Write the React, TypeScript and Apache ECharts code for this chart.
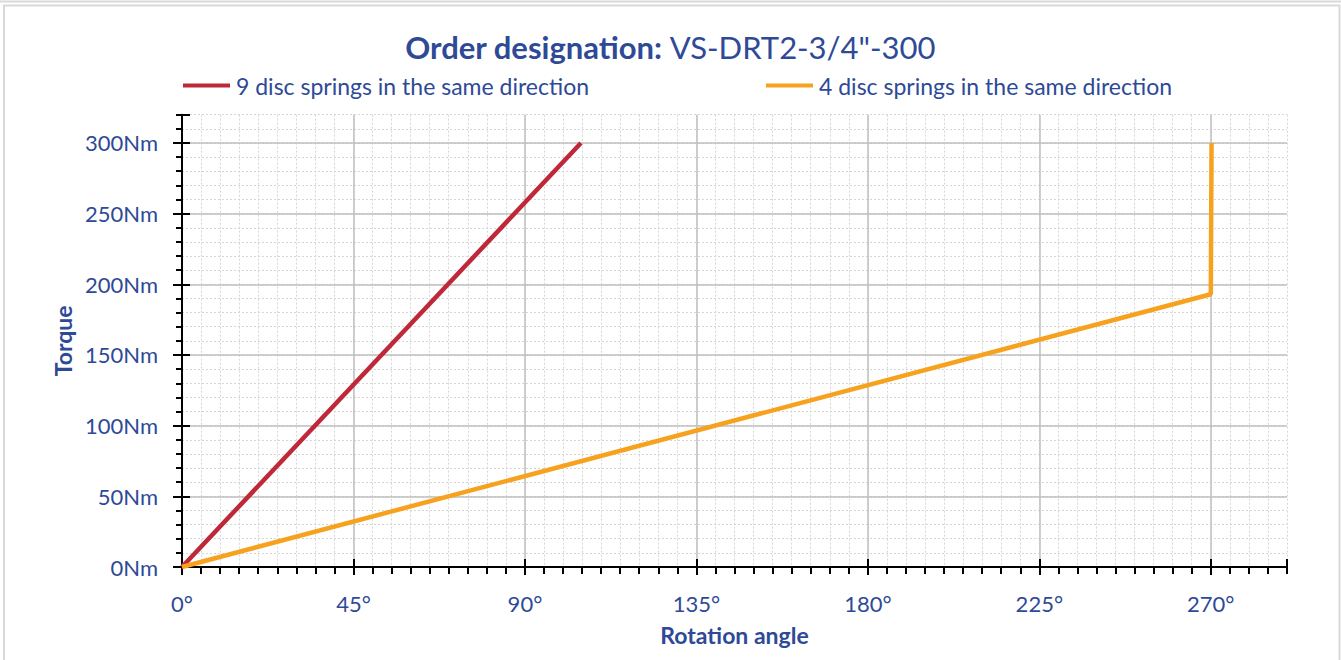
import React, { useEffect, useRef } from "react";
import * as echarts from "echarts";

const seriesNames = ["9 disc springs in the same direction", "4 disc springs in the same direction"];
const nineSprings: number[][] = [[0, 0], [104.7, 300]];
const fourSprings: number[][] = [[0, 0], [270, 193], [270.2, 300]];
const xMax = 290;
const yMax = 320;
const xMajor = 45;
const xMinor = 5;
const yMajor = 50;
const yMinor = 10;
const titleBold = "Order designation:";
const titleRest = " VS-DRT2-3/4\"-300";
const xName = "Rotation angle";
const yName = "Torque";

const TEXT = "#2E4A97";
const RED = "#BE2838";
const ORANGE = "#F7A21E";
const FONT = "Lato";

export default function App() {
  const ref = useRef<HTMLDivElement>(null);
  useEffect(() => {
    document.body.style.margin = "0";
    const chart = echarts.init(ref.current!, null, { renderer: "svg" });
    const grid = { left: 182, right: 54, top: 114.7, bottom: 93 };
    const hidden = { show: false };
    const legendBase = {
      icon: "rect",
      itemWidth: 47,
      itemHeight: 4,
      itemGap: 6,
      padding: 0,
      textStyle: { fontFamily: FONT, fontSize: 23, color: TEXT, padding: [0, 0, 0, 1] },
    };
    chart.setOption({
      animation: false,
      textStyle: { fontFamily: FONT },
      title: {
        text: `{b|${titleBold}}{r|${titleRest}}`,
        left: "center",
        top: 26,
        textStyle: {
          rich: {
            b: { fontFamily: FONT, fontWeight: "bold", fontSize: 31, color: TEXT },
            r: { fontFamily: FONT, fontWeight: "normal", fontSize: 31, color: TEXT },
          },
        },
      },
      legend: [
        { ...legendBase, data: [seriesNames[0]], left: 183, top: 74 },
        { ...legendBase, data: [seriesNames[1]], left: 766, top: 74 },
      ],
      graphic: [
        { type: "line", shape: { x1: 0, y1: 1.5, x2: 1341, y2: 1.5 }, style: { stroke: "#D9D9D9", lineWidth: 2 }, silent: true },
        { type: "rect", shape: { x: 4, y: 5.5, width: 1335.5, height: 670 }, style: { fill: "none", stroke: "#D9D9D9", lineWidth: 2 }, silent: true },
      ],
      grid,
      xAxis: [
        {
          type: "value",
          min: 0,
          max: xMax,
          interval: xMajor,
          position: "bottom",
          name: xName,
          nameLocation: "middle",
          nameGap: 56,
          nameTextStyle: { fontFamily: FONT, fontWeight: "bold", fontSize: 23, color: TEXT },
          axisLine: { show: true, onZero: false, lineStyle: { color: "#000", width: 2 } },
          axisTick: { show: true, length: 8, lineStyle: { color: "#000", width: 2 } },
          axisLabel: { showMaxLabel: false, margin: 25, fontFamily: FONT, fontSize: 22, color: TEXT, formatter: (v: number) => `${v}°` },
          splitLine: { show: true, showMaxLine: false, lineStyle: { color: "#BFBFBF", width: 1.5 } },
          z: 3,
        },
        {
          type: "value",
          min: 0,
          max: xMax,
          interval: xMinor,
          position: "bottom",
          axisLine: { show: false, onZero: false },
          axisTick: { show: true, length: 7, lineStyle: { color: "#000", width: 2 } },
          axisLabel: hidden,
          splitLine: { show: true, lineStyle: { color: "#D6D6D6", width: 1, type: [2, 2] } },
          z: 1,
        },
        {
          type: "value",
          min: 0,
          max: xMax,
          interval: xMajor,
          position: "bottom",
          axisLine: { show: false, onZero: false },
          axisTick: { show: true, inside: true, length: 8, lineStyle: { color: "#000", width: 2 } },
          axisLabel: hidden,
          splitLine: hidden,
          z: 4,
        },
      ],
      yAxis: [
        {
          type: "value",
          min: 0,
          max: yMax,
          interval: yMajor,
          position: "left",
          name: yName,
          nameLocation: "middle",
          nameGap: 106,
          nameTextStyle: { fontFamily: FONT, fontWeight: "bold", fontSize: 23, color: TEXT },
          axisLine: { show: true, onZero: false, lineStyle: { color: "#000", width: 2 } },
          axisTick: { show: true, length: 9, lineStyle: { color: "#000", width: 2 } },
          axisLabel: { showMaxLabel: false, margin: 24, fontFamily: FONT, fontSize: 22, color: TEXT, formatter: (v: number) => `${v}Nm` },
          splitLine: { show: true, showMaxLine: false, lineStyle: { color: "#BFBFBF", width: 1.5 } },
          z: 3,
        },
        {
          type: "value",
          min: 0,
          max: yMax,
          interval: yMinor,
          position: "left",
          axisLine: { show: false, onZero: false },
          axisTick: { show: true, length: 6, lineStyle: { color: "#000", width: 2 } },
          axisLabel: hidden,
          splitLine: { show: true, lineStyle: { color: "#D6D6D6", width: 1, type: [2, 2] } },
          z: 1,
        },
        {
          type: "value",
          min: 0,
          max: yMax,
          interval: yMajor,
          position: "left",
          axisLine: { show: false, onZero: false },
          axisTick: { show: true, inside: true, length: 8, lineStyle: { color: "#000", width: 2 } },
          axisLabel: hidden,
          splitLine: hidden,
          z: 4,
        },
      ],
      series: [
        {
          name: seriesNames[0],
          type: "line",
          data: nineSprings,
          xAxisIndex: 0,
          yAxisIndex: 0,
          showSymbol: false,
          symbol: "none",
          lineStyle: { color: RED, width: 4.5 },
          itemStyle: { color: RED },
          z: 5,
        },
        {
          name: seriesNames[1],
          type: "line",
          data: fourSprings,
          xAxisIndex: 0,
          yAxisIndex: 0,
          showSymbol: false,
          symbol: "none",
          lineStyle: { color: ORANGE, width: 4.5 },
          itemStyle: { color: ORANGE },
          z: 5,
        },
      ],
    });
    return () => chart.dispose();
  }, []);
  return <div ref={ref} style={{ width: 1341, height: 660 }} />;
}
